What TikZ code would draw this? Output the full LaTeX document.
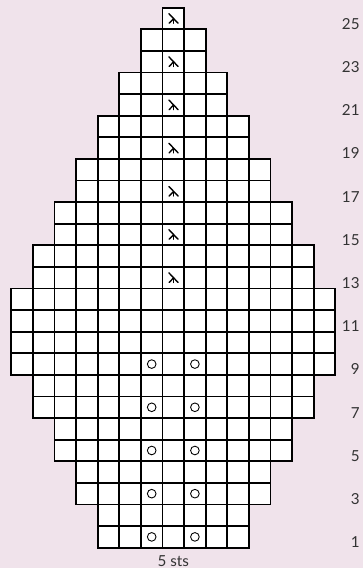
\documentclass[tikz,border=0pt]{standalone}
\usepackage{fontspec}
\setmainfont{Lato}
\definecolor{chartbg}{HTML}{F0E3EB}
\definecolor{rowgrey}{HTML}{333333}

\begin{document}
\begin{tikzpicture}[x=0.6cm, y=0.6cm,
    chartgrid/.style={draw=black, line width=1.5pt, line cap=rect, step=0.6cm},
    yarnover/.style={circle, draw=black, line width=0.7pt, minimum size=0.24cm, inner sep=0pt},
    decline/.style={line width=1.1pt, line cap=round},
    rownum/.style={anchor=east, text=rowgrey, font=\fontsize{12}{14}\selectfont}]

        % Background
        \fill[chartbg] (-0.523,-0.94) rectangle (16.28,25.356);
        \useasboundingbox (-0.523,-0.94) rectangle (16.28,25.356);

        % Rows 1-2
        \fill[white] (4,0) rectangle (11,2);
        \draw[chartgrid] (4,0) grid (11,2);

        % Rows 3-4
        \fill[white] (3,2) rectangle (12,4);
        \draw[chartgrid] (3,2) grid (12,4);

        % Rows 5-6
        \fill[white] (2,4) rectangle (13,6);
        \draw[chartgrid] (2,4) grid (13,6);

        % Rows 7-8
        \fill[white] (1,6) rectangle (14,8);
        \draw[chartgrid] (1,6) grid (14,8);

        % Rows 9-12
        \fill[white] (0,8) rectangle (15,12);
        \draw[chartgrid] (0,8) grid (15,12);

        % Rows 13-14
        \fill[white] (1,12) rectangle (14,14);
        \draw[chartgrid] (1,12) grid (14,14);

        % Rows 15-16
        \fill[white] (2,14) rectangle (13,16);
        \draw[chartgrid] (2,14) grid (13,16);

        % Rows 17-18
        \fill[white] (3,16) rectangle (12,18);
        \draw[chartgrid] (3,16) grid (12,18);

        % Rows 19-20
        \fill[white] (4,18) rectangle (11,20);
        \draw[chartgrid] (4,18) grid (11,20);

        % Rows 21-22
        \fill[white] (5,20) rectangle (10,22);
        \draw[chartgrid] (5,20) grid (10,22);

        % Rows 23-24
        \fill[white] (6,22) rectangle (9,24);
        \draw[chartgrid] (6,22) grid (9,24);

        % Row 25
        \fill[white] (7,24) rectangle (8,25);
        \draw[chartgrid] (7,24) grid (8,25);

        % Yarn overs
        \foreach \r in {1,3,5,7,9} {
          \node[yarnover] (yoL\r) at (6.5,\r-0.5) {};
          \node[yarnover] (yoR\r) at (8.5,\r-0.5) {};
        }

        % Double decreases
        \foreach \r in {13,15,...,25} {
          \draw[decline] (7.5,\r-0.5) ++(-0.2,0.22) -- ++(0.42,-0.44);
          \draw[decline] (7.5,\r-0.52) -- ++(-0.19,-0.2);
          \draw[decline] (7.5,\r-0.52) -- ++(0,-0.2);
        }

        % Row numbers
        \foreach \r in {1,3,...,25} {
          \node[rownum] (row\r) at (16.33,\r-0.75) {\r};
        }

        % Stitch count
        \node[text=rowgrey, font=\fontsize{12}{14}\selectfont] (sts) at (7.5,-0.6) {5 sts};
      \end{tikzpicture}
\end{document}
